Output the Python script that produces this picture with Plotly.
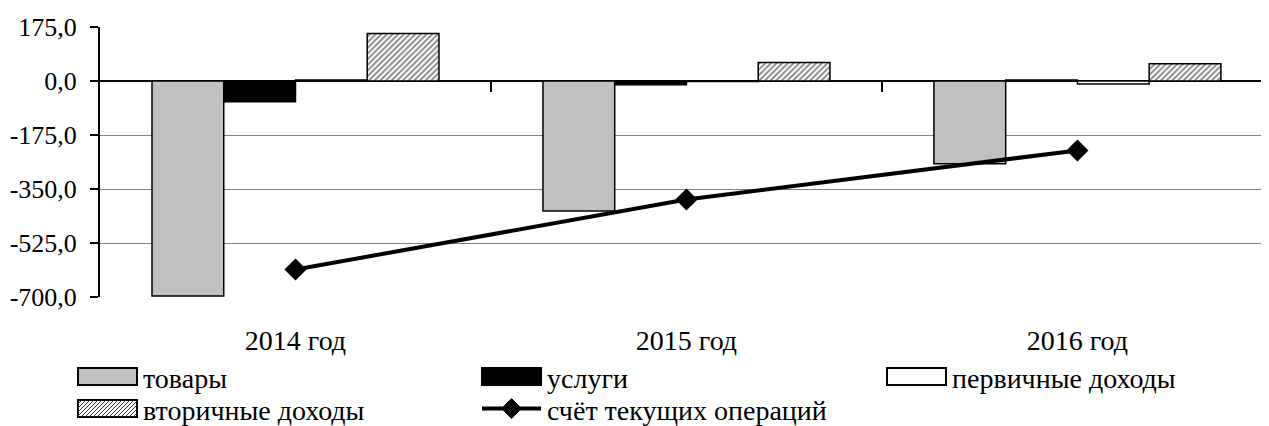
import plotly.graph_objects as go

categories = ["2014 год", "2015 год", "2016 год"]
tovary = [-697, -421, -268]
uslugi = [-67, -12, 3]
pervichnye = [3, -2, -10]
vtorichnye = [154, 60, 56]
schet = [-611, -384, -225]

series_names = ["товары", "услуги", "первичные доходы", "вторичные доходы", "счёт текущих операций"]

y_tickvals = [175, 0, -175, -350, -525, -700]
y_ticktext = ["175,0", "0,0", "-175,0", "-350,0", "-525,0", "-700,0"]
grid_vals = [-175, -350, -525]
boundary_vals = [0.5, 1.5]

FONT = "Liberation Serif"
FS = 28
FS_Y = 26
x_idx = list(range(len(categories)))

# page has an 8px body margin; the figure is placed at (8, 8)
OFF = 8
W, H = 1269 - OFF, 426 - OFF
ML, MR, MT, MB = 100 - OFF, 0, 27 - OFF, 426 - 297
PW, PH = W - ML - MR, H - MT - MB


def px(x):
    return (x - OFF - ML) / PW


def py(y):
    return (H - MB - (y - OFF)) / PH


fig = go.Figure()
fig.add_trace(go.Bar(name=series_names[0], x=x_idx, y=tovary,
                     marker=dict(color="#c0c0c0", line=dict(color="black", width=1.5))))
fig.add_trace(go.Bar(name=series_names[1], x=x_idx, y=uslugi,
                     marker=dict(color="black", line=dict(color="black", width=1.5))))
fig.add_trace(go.Bar(name=series_names[2], x=x_idx, y=pervichnye,
                     marker=dict(color="white", line=dict(color="black", width=1.5))))
fig.add_trace(go.Bar(name=series_names[3], x=x_idx, y=vtorichnye,
                     marker=dict(color="white", line=dict(color="black", width=1.5),
                                 pattern=dict(shape="/", fgcolor="black", bgcolor="white",
                                              size=4, solidity=0.45))))
fig.add_trace(go.Scatter(name=series_names[4], x=x_idx, y=schet,
                         mode="lines+markers",
                         line=dict(color="black", width=4),
                         marker=dict(symbol="diamond", size=17, color="black")))
fig.add_trace(go.Scatter(x=[None], y=[None], xaxis="x2", showlegend=False, hoverinfo="skip"))

# ---- custom legend (wide swatches like the original) ----
shapes = []
annotations = []
col_x = [78, 482, 887]
row_y = [368, 400]
sw_w, sw_h = 59, 17
slots = [(0, 0), (1, 0), (2, 0), (0, 1), (1, 1)]
fills = ["#c0c0c0", "black", "white", "white", None]

for i, (c, r) in enumerate(slots):
    x0, y0 = col_x[c], row_y[r]
    x1, y1 = x0 + sw_w, y0 + sw_h
    yc = (y0 + y1) / 2
    if fills[i] is not None:
        shapes.append(dict(type="rect", xref="paper", yref="paper",
                           x0=px(x0), x1=px(x1), y0=py(y1), y1=py(y0),
                           fillcolor=fills[i], line=dict(color="black", width=2)))
        if i == 3:
            segs = []
            h = y1 - y0
            k = -h
            while k < sw_w:
                sx, sy = x0 + k, y1
                ex, ey = x0 + k + h, y0
                if sx < x0:
                    sy = y1 - (x0 - sx)
                    sx = x0
                if ex > x1:
                    ey = y0 + (ex - x1)
                    ex = x1
                if ex > sx:
                    segs.append(f"M{px(sx)},{py(sy)} L{px(ex)},{py(ey)}")
                k += 4
            shapes.append(dict(type="path", xref="paper", yref="paper", path=" ".join(segs),
                               line=dict(color="#333333", width=1)))
    else:
        shapes.append(dict(type="line", xref="paper", yref="paper",
                           x0=px(x0), x1=px(x1), y0=py(yc), y1=py(yc),
                           line=dict(color="black", width=4)))
        xm, d = (x0 + x1) / 2, 10
        shapes.append(dict(type="path", xref="paper", yref="paper",
                           path=f"M{px(xm - d)},{py(yc)} L{px(xm)},{py(yc - d)} "
                                f"L{px(xm + d)},{py(yc)} L{px(xm)},{py(yc + d)} Z",
                           fillcolor="black", line=dict(color="black", width=1)))
    annotations.append(dict(text=series_names[i], xref="paper", yref="paper",
                            x=px(x1 + 4), y=py(yc + 2), xanchor="left", yanchor="middle",
                            showarrow=False, font=dict(family=FONT, size=FS, color="black")))

fig.update_layout(
    width=W, height=H,
    margin=dict(l=ML, r=MR, t=MT, b=MB, autoexpand=False),
    paper_bgcolor="white", plot_bgcolor="white",
    font=dict(family=FONT, size=FS, color="black"),
    barmode="group", bargap=0.266, bargroupgap=0,
    showlegend=False,
    shapes=shapes, annotations=annotations,
    xaxis=dict(range=[-0.5, 2.49], tickvals=x_idx, ticktext=categories,
               showgrid=False, zeroline=False, showline=False, ticks="",
               ticklabelstandoff=24, tickfont=dict(family=FONT, size=FS)),
    xaxis2=dict(overlaying="x", anchor="free", position=0.8, range=[-0.5, 2.49],
                tickvals=boundary_vals, ticks="outside", ticklen=10, tickwidth=2,
                tickcolor="black", showticklabels=False, showgrid=False,
                zeroline=False, showline=False),
    yaxis=dict(range=[-700, 175], tickvals=y_tickvals, ticktext=y_ticktext,
               showgrid=False, zeroline=True, zerolinecolor="black", zerolinewidth=2,
               showline=True, linecolor="black", linewidth=2,
               ticks="outside", ticklen=8, tickwidth=2, tickcolor="black",
               ticklabelstandoff=8, tickfont=dict(family=FONT, size=FS_Y),
               minor=dict(tickvals=grid_vals, showgrid=True, gridcolor="#808080",
                          gridwidth=1, ticks="")),
)

fig.write_html("out.html")
